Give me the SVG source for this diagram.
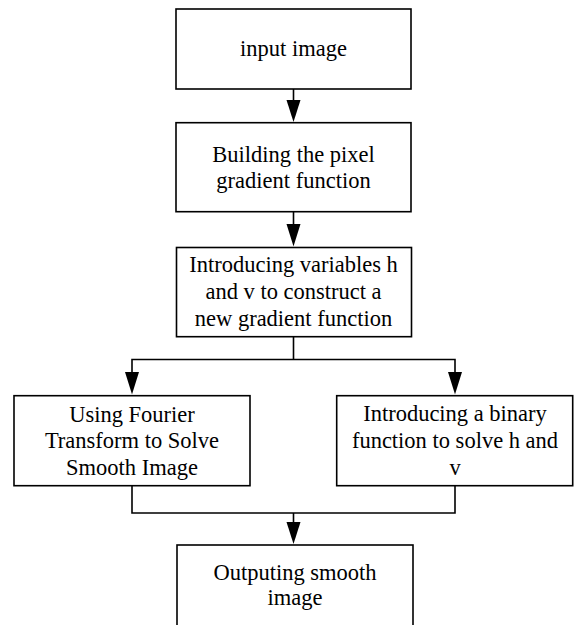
<svg xmlns="http://www.w3.org/2000/svg" width="575" height="625" viewBox="0 0 575 625">
<style>
.box{fill:#fff;stroke:#000;stroke-width:1.6}
.t{font-family:"Liberation Serif","Times New Roman",serif;font-size:22.5px;fill:#000;text-anchor:middle}
.c{fill:none;stroke:#000;stroke-width:1.6}
.ah{fill:#000}
</style>
<rect width="575" height="625" fill="#fff"/>
<g id="connectors">
<line class="c" x1="293.5" y1="89" x2="293.5" y2="110"/>
<path class="ah" d="M286.5,100 L300.5,100 L293.5,122 Z"/>
<line class="c" x1="293.5" y1="211.7" x2="293.5" y2="234"/>
<path class="ah" d="M286.5,224 L300.5,224 L293.5,246.5 Z"/>
<polyline class="c" points="293.5,336.7 293.5,359.5"/>
<polyline class="c" points="132,380 132,359.5 455,359.5 455,380"/>
<path class="ah" d="M125,372 L139,372 L132,394.5 Z"/>
<path class="ah" d="M448,372 L462,372 L455,394.5 Z"/>
<polyline class="c" points="132,485.7 132,513 455,513 455,485.7"/>
<line class="c" x1="293.5" y1="513" x2="293.5" y2="530"/>
<path class="ah" d="M286.5,522 L300.5,522 L293.5,544 Z"/>
</g>
<g id="n1">
<rect class="box" x="176" y="9" width="235" height="80"/>
<text class="t" x="293.5" y="56">input image</text>
</g>
<g id="n2">
<rect class="box" x="176" y="122.7" width="235" height="89"/>
<text class="t" x="293.5" y="161.7">Building the pixel</text>
<text class="t" x="293.5" y="187.5">gradient function</text>
</g>
<g id="n3">
<rect class="box" x="176.5" y="247.5" width="235" height="89.2"/>
<text class="t" x="293.5" y="272">Introducing variables h</text>
<text class="t" x="293.5" y="299">and v to construct a</text>
<text class="t" x="293.5" y="325.7">new gradient function</text>
</g>
<g id="n4">
<rect class="box" x="14" y="395.7" width="236" height="90"/>
<text class="t" x="132" y="421.7">Using Fourier</text>
<text class="t" x="132" y="448.3">Transform to Solve</text>
<text class="t" x="132" y="475">Smooth Image</text>
</g>
<g id="n5">
<rect class="box" x="336.7" y="395.7" width="236" height="90"/>
<text class="t" x="455" y="420.7">Introducing a binary</text>
<text class="t" x="455" y="448.3">function to solve h and</text>
<text class="t" x="455" y="475">v</text>
</g>
<g id="n6">
<rect class="box" x="177" y="545" width="236" height="89"/>
<text class="t" x="295" y="580">Outputing smooth</text>
<text class="t" x="295" y="605">image</text>
</g>
</svg>
